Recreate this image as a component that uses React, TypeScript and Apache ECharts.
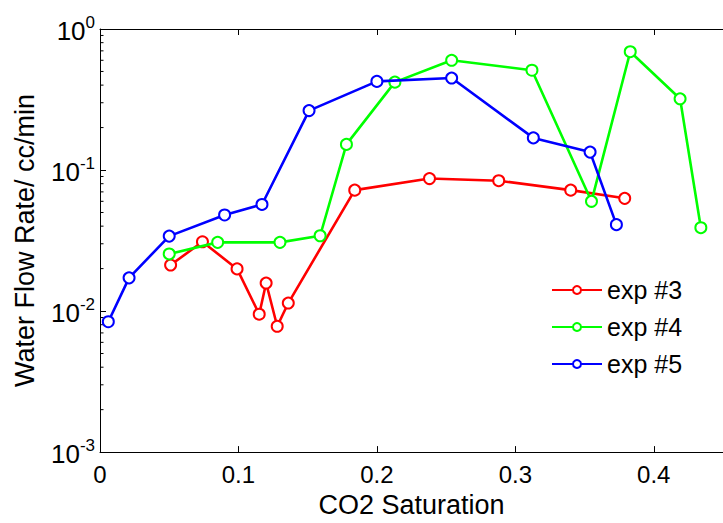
import React, { useEffect, useRef } from "react";
import * as echarts from "echarts";

// CO2 saturation (x) and water flow rate in cc/min (y) for each experiment
const exp3X = [0.051, 0.074, 0.099, 0.115, 0.12, 0.128, 0.136, 0.184, 0.238, 0.288, 0.34, 0.379];
const exp3Y = [0.0212, 0.031, 0.0199, 0.0095, 0.0158, 0.0078, 0.0114, 0.072, 0.087, 0.084, 0.072, 0.063];
const exp4X = [0.05, 0.085, 0.13, 0.159, 0.178, 0.213, 0.254, 0.312, 0.355, 0.383, 0.419, 0.434];
const exp4Y = [0.0254, 0.0307, 0.0307, 0.0342, 0.152, 0.42, 0.6, 0.51, 0.06, 0.69, 0.32, 0.039];
const exp5X = [0.006, 0.021, 0.05, 0.09, 0.117, 0.151, 0.2, 0.254, 0.313, 0.354, 0.373];
const exp5Y = [0.0084, 0.0172, 0.034, 0.048, 0.057, 0.264, 0.425, 0.449, 0.169, 0.134, 0.041];

const seriesNames = ["exp #3", "exp #4", "exp #5"];
const seriesColors = ["#ff0000", "#00ff00", "#0000ff"];

// minor tick positions on the log axis (2..9 within each decade)
const minorTickValues = [0.002, 0.003, 0.004, 0.005, 0.006, 0.007, 0.008, 0.009,
  0.02, 0.03, 0.04, 0.05, 0.06, 0.07, 0.08, 0.09,
  0.2, 0.3, 0.4, 0.5, 0.6, 0.7, 0.8, 0.9];

const xAxisName = "CO2 Saturation";
const yAxisName = "Water Flow Rate/ cc/min";

const FONT = "Liberation Sans, Arial, Helvetica, sans-serif";

function pairs(xs: number[], ys: number[]) {
  return xs.map((x, i) => [x, ys[i]]);
}

export default function App() {
  const ref = useRef<HTMLDivElement>(null);

  useEffect(() => {
    if (!ref.current) return;
    const chart = echarts.init(ref.current, null, { renderer: "svg" });

    const lineSeries = [pairs(exp3X, exp3Y), pairs(exp4X, exp4Y), pairs(exp5X, exp5Y)].map(
      (data, i) => ({
        name: seriesNames[i],
        type: "line",
        data,
        xAxisIndex: 0,
        yAxisIndex: 0,
        symbol: "emptyCircle",
        symbolSize: 11,
        showAllSymbol: true,
        lineStyle: { color: seriesColors[i], width: 2.6 },
        itemStyle: { color: seriesColors[i], borderColor: seriesColors[i], borderWidth: 2.4 },
        z: 3 + i,
      })
    );

    const option: any = {
      animation: false,
      backgroundColor: "#ffffff",
      grid: { left: 100, right: -8, top: 29, bottom: 69, containLabel: false },
      legend: {
        data: seriesNames,
        orient: "vertical",
        left: 546,
        top: 272,
        itemWidth: 50,
        itemHeight: 10,
        itemGap: 11,
        textStyle: { fontSize: 25, color: "#000", fontFamily: FONT, lineHeight: 26 },
      },
      xAxis: [
        {
          type: "value",
          position: "bottom",
          min: 0,
          max: 0.45,
          interval: 0.1,
          name: xAxisName,
          nameLocation: "middle",
          nameGap: 37,
          nameTextStyle: { fontSize: 27, color: "#000", fontFamily: FONT },
          axisLine: { show: true, lineStyle: { color: "#000", width: 1 } },
          axisTick: { show: true, inside: true, length: 6, lineStyle: { color: "#000" } },
          axisLabel: {
            fontSize: 24,
            color: "#000",
            fontFamily: FONT,
            margin: 10,
            showMaxLabel: false,
            formatter: (v: number) => String(Math.round(v * 10) / 10),
          },
          splitLine: { show: false },
        },
        {
          type: "value",
          position: "top",
          min: 0,
          max: 0.45,
          interval: 0.1,
          axisLine: { show: true, lineStyle: { color: "#000", width: 1 } },
          axisTick: { show: true, inside: true, length: 6, lineStyle: { color: "#000" } },
          axisLabel: { show: false },
          splitLine: { show: false },
        },
      ],
      yAxis: [
        {
          type: "log",
          logBase: 10,
          min: 0.001,
          max: 1,
          name: yAxisName,
          nameLocation: "middle",
          nameGap: 62,
          nameRotate: 90,
          nameTextStyle: { fontSize: 27, color: "#000", fontFamily: FONT },
          axisLine: { show: true, lineStyle: { color: "#000", width: 1 } },
          axisTick: { show: true, inside: true, length: 6, lineStyle: { color: "#000" } },
          axisLabel: {
            color: "#000",
            margin: 5,
            formatter: (v: number) => `{b|10}{s|${Math.round(Math.log10(v))}}`,
            rich: {
              b: { fontSize: 26, fontFamily: FONT, color: "#000", lineHeight: 30, verticalAlign: "bottom" },
              s: { fontSize: 17, fontFamily: FONT, color: "#000", verticalAlign: "top", lineHeight: 30 },
            },
          },
          splitLine: { show: false },
        },
      ],
      series: [
        ...lineSeries,
        {
          type: "custom",
          name: "minorTicks",
          silent: true,
          xAxisIndex: 0,
          yAxisIndex: 0,
          data: minorTickValues.map((v) => [0, v]),
          renderItem: (params: any, api: any) => {
            const p = api.coord([api.value(0), api.value(1)]);
            return {
              type: "line",
              shape: { x1: p[0], y1: p[1], x2: p[0] + 3.5, y2: p[1] },
              style: { stroke: "#000", lineWidth: 1 },
            };
          },
          z: 1,
        },
      ],
    };

    chart.setOption(option);
    return () => chart.dispose();
  }, []);

  return (
    <div
      ref={ref}
      style={{ position: "fixed", left: 0, top: 0, width: 723, height: 523, background: "#fff" }}
    />
  );
}
